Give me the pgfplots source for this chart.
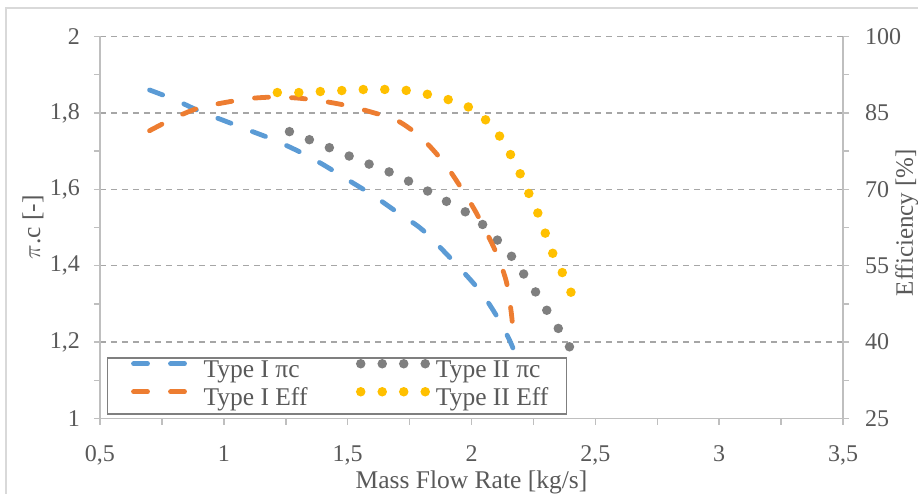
\documentclass[border=0pt]{standalone}
\usepackage{fontspec}
\setmainfont{Liberation Serif}
\usepackage{pgfplots}
\pgfplotsset{compat=1.18}
\definecolor{cBlue}{HTML}{5B9BD5}
\definecolor{cOrange}{HTML}{ED7D31}
\definecolor{cGray}{HTML}{7F7F7F}
\definecolor{cYellow}{HTML}{FFC000}
\definecolor{cText}{HTML}{595959}
\definecolor{cAxis}{HTML}{BFBFBF}
\definecolor{cGrid}{HTML}{A6A6A6}
\definecolor{cFrame}{HTML}{D9D9D9}
\definecolor{cLeg}{HTML}{7F7F7F}
\pgfplotsset{
  common/.style={
    scale only axis, width=743bp, height=382bp,
    at={(0,0)}, anchor=south west,
    xmin=0.5, xmax=3.5,
    axis line style={cAxis, line width=1.5bp},
    tick style={cAxis, line width=1.5bp},
    tick align=outside,
    major tick length=6bp, minor tick length=6bp,
    ticklabel style={font=\fontsize{24bp}{28bp}\selectfont, text=cText, inner sep=0pt},
    xtick={0.5,1,1.5,2,2.5,3,3.5}, minor xtick={0.75,1.25,1.75,2.25,2.75,3.25},
    xticklabel={\pgfmathprintnumber[assume math mode=true]{\tick}},
    yticklabel={\pgfmathprintnumber[assume math mode=true]{\tick}},
    /pgf/number format/.cd, use comma, 1000 sep={}, /pgfplots/.cd,
  },
  blueline/.style={cBlue, line width=4.8bp, line cap=round, dash pattern=on 14bp off 23bp},
  orangeline/.style={cOrange, line width=4.8bp, line cap=round, dash pattern=on 14bp off 23bp},
  grayline/.style={cGray, line width=9.5bp, line cap=round, dash pattern=on 0bp off 21.5bp},
  yellowline/.style={cYellow, line width=9.5bp, line cap=round, dash pattern=on 0bp off 21.5bp},
  legA/.style={legend image code/.code={\path (0,0) (84bp,8bp); \draw[##1] (16.4bp,8bp) -- (70bp,8bp);}},
  legB/.style={legend image code/.code={\path (0,0) (119bp,8bp); \draw[##1] (48.5bp,8bp) -- (113bp,8bp);}},
}
\begin{document}
\begin{tikzpicture}
\begin{axis}[common,
  ymin=1, ymax=2,
  ytick={1,1.2,1.4,1.6,1.8,2}, minor ytick={1.1,1.3,1.5,1.7,1.9},
  axis x line*=bottom, axis y line*=left,
  ymajorgrids, major grid style={cGrid, line width=1.5bp, dash pattern=on 6bp off 5bp},
  xticklabel style={anchor=north, yshift=-20.5bp},
  yticklabel style={anchor=east, xshift=-14bp},
  ylabel={$\pi$.c [-]}, xlabel={Mass Flow Rate [kg/s]},
  every axis y label/.style={at={(axis description cs:-0.0902,0.5)}, anchor=center, rotate=90,
    font=\fontsize{25.5bp}{30bp}\selectfont, text=cText},
  every axis x label/.style={at={(axis description cs:0.5,-0.182)}, anchor=base,
    font=\fontsize{25.5bp}{30bp}\selectfont, text=cText},
]
\addplot[blueline, smooth] coordinates {
(0.70,1.860) (0.80,1.835) (0.90,1.805) (1.00,1.780) (1.10,1.755) (1.20,1.730)
(1.30,1.700) (1.40,1.665) (1.50,1.625) (1.60,1.585) (1.70,1.540) (1.80,1.495)
(1.90,1.430) (2.00,1.360) (2.05,1.320) (2.10,1.270) (2.15,1.210) (2.18,1.165)};
\addplot[grayline, smooth] coordinates {
(1.265,1.751) (1.345,1.730) (1.426,1.709) (1.510,1.686) (1.590,1.665) (1.673,1.644)
(1.750,1.620) (1.827,1.594) (1.900,1.568) (1.980,1.539) (2.050,1.505) (2.110,1.463)
(2.166,1.421) (2.215,1.374) (2.263,1.327) (2.310,1.277) (2.356,1.230) (2.400,1.183)};
\end{axis}
\begin{axis}[common,
  ymin=25, ymax=100,
  ytick={25,40,55,70,85,100}, minor ytick={32.5,47.5,62.5,77.5,92.5},
  axis y line*=right, axis x line=none,
  yticklabel style={anchor=west, xshift=16bp},
  ylabel={Efficiency [\%]},
  every axis y label/.style={at={(axis description cs:1.070,0.513)}, anchor=north, rotate=90, inner sep=0pt,
    font=\fontsize{25bp}{30bp}\selectfont, text=cText},
  legend columns=2, legend cell align=left,
  legend style={at={(axis description cs:0.0094,0.161)}, anchor=north west,
    draw=cLeg, line width=1.5bp, fill=white, inner xsep=7bp, inner ysep=0bp,
    column sep=0pt, font=\fontsize{25.5bp}{28bp}\selectfont, text=cText,
    nodes={inner xsep=0pt, inner ysep=1bp, text height=19bp, text depth=7bp}},
]
\addlegendimage{blueline, legA}
\addlegendentry{Type I πc}
\addlegendimage{grayline, legB}
\addlegendentry{Type II πc}
\addplot[orangeline, smooth, legA] coordinates {
(0.70,81.5) (0.80,84.0) (0.90,86.0) (1.00,87.0) (1.10,87.8) (1.20,88.1)
(1.30,87.9) (1.40,87.3) (1.50,86.4) (1.60,85.1) (1.70,83.5) (1.80,80.0)
(1.90,74.5) (2.00,67.0) (2.05,62.5) (2.10,57.5) (2.14,52.0) (2.16,46.0) (2.17,41.0)};
\addlegendentry{Type I Eff}
\addplot[yellowline, smooth, legB] coordinates {
(1.216,89.0) (1.305,89.0) (1.390,89.2) (1.480,89.4) (1.567,89.6) (1.656,89.6)
(1.740,89.4) (1.827,88.6) (1.907,87.6) (1.990,86.1) (2.060,83.5) (2.117,80.2)
(2.160,76.6) (2.200,72.7) (2.235,68.8) (2.270,65.1) (2.300,61.1) (2.330,57.2)
(2.370,53.3) (2.405,49.4)};
\addlegendentry{Type II Eff\kern11bp\null}
\end{axis}
\draw[cFrame, line width=1.5bp] (-94bp,-90bp) rectangle (830bp,410.5bp);
\pgfresetboundingbox
\path[use as bounding box] (-100bp,-75.5bp) rectangle (818bp,418.5bp);
\end{tikzpicture}
\end{document}
